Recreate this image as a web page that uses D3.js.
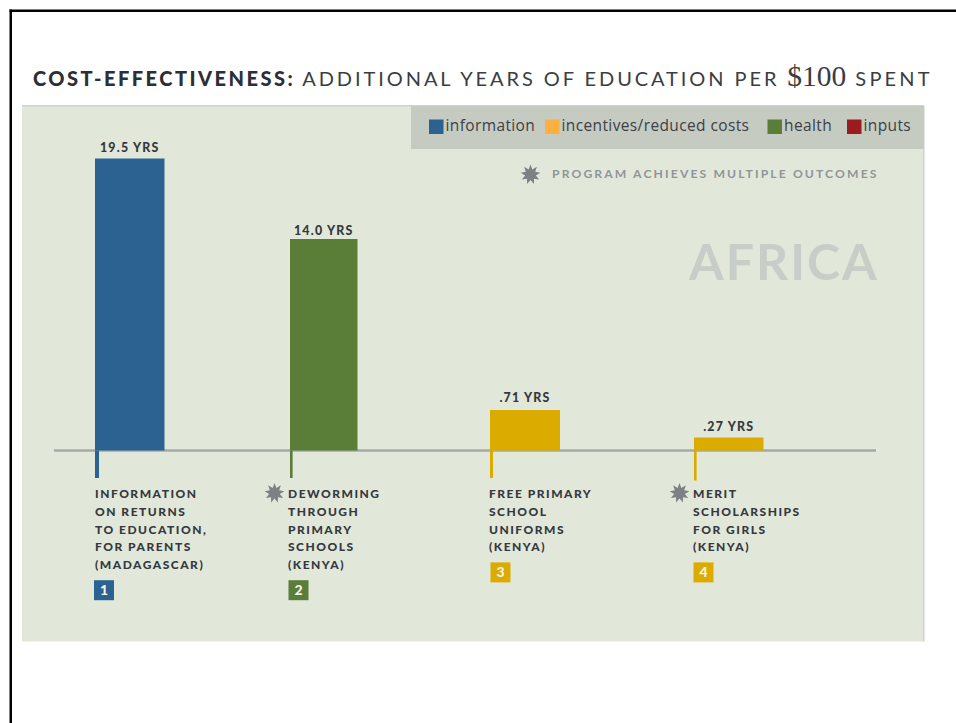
<!DOCTYPE html>
<html>
<head>
<meta charset="utf-8">
<script src="https://cdn.jsdelivr.net/npm/d3@7/dist/d3.min.js"></script>
<style>
  html, body { margin: 0; padding: 0; background: #fff; }
  svg { display: block; }
  text { font-family: Lato, sans-serif; }
</style>
</head>
<body>
<svg id="chart" width="956" height="723"></svg>
<script>
// Chart content
const categories = ["information-returns", "deworming", "uniforms", "scholarships"];
const years = [19.5, 14.0, 0.71, 0.27];
const valueLabels = ["19.5 YRS", "14.0 YRS", ".71 YRS", ".27 YRS"];
const programTypes = ["information", "health", "incentives/reduced costs", "incentives/reduced costs"];
const programLines = [
  ["INFORMATION", "ON RETURNS", "TO EDUCATION,", "FOR PARENTS", "(MADAGASCAR)"],
  ["DEWORMING", "THROUGH", "PRIMARY", "SCHOOLS", "(KENYA)"],
  ["FREE PRIMARY", "SCHOOL", "UNIFORMS", "(KENYA)"],
  ["MERIT", "SCHOLARSHIPS", "FOR GIRLS", "(KENYA)"]
];
const multipleOutcomes = [false, true, false, true];
const badgeNumbers = ["1", "2", "3", "4"];
const legendTypes = ["information", "incentives/reduced costs", "health", "inputs"];

// Layout and colour
const W = 956, H = 723;
const color = d3.scaleOrdinal()
  .domain(legendTypes)
  .range(["#2b6291", "#fcb040", "#5a7d37", "#9c1b1f"]);
const barColor = d3.scaleOrdinal()
  .domain(legendTypes)
  .range(["#2b6291", "#dcab00", "#5a7d37", "#9c1b1f"]);
const ink = "#35393f";
const baseY = 450.5;

// Bars are not to a single linear scale in this design: small values are stretched.
const y = d3.scaleLinear()
  .domain([0, 0.27, 0.71, 14, 19.5])
  .range([baseY, 437.5, 410, 239, 158.5]);
const xBar = d3.scaleOrdinal().domain(categories).range([95, 290, 490, 694]);
const barWidth = d3.scaleOrdinal().domain(categories).range([69.5, 67.5, 70, 69.5]);
const stemWidth = d3.scaleOrdinal().domain(categories).range([4, 2.6, 3, 2.6]);
const stemBottom = d3.scaleOrdinal().domain(categories).range([478, 478, 478, 480.5]);
const xLabel = d3.scaleOrdinal().domain(categories).range([95, 288, 489, 693]);
const xBadge = d3.scaleOrdinal().domain(categories).range([94, 288.5, 490.5, 693.5]);
const valueGap = d3.scaleOrdinal().domain(categories).range([6.5, 4.5, 8, 6.5]);

const svg = d3.select("#chart");

svg.append("rect").attr("width", W).attr("height", H).attr("fill", "#fff");

// Black frame along the top and left edges
svg.append("rect").attr("x", 9.5).attr("y", 9.5).attr("width", W - 9.5).attr("height", 2.5).attr("fill", "#000");
svg.append("rect").attr("x", 9.5).attr("y", 9.5).attr("width", 2.5).attr("height", H - 9.5).attr("fill", "#000");

// Title
const title = svg.append("text").attr("x", 33).attr("y", 85.5).attr("fill", "#2c2f36");
title.append("tspan").text("COST-EFFECTIVENESS:")
  .attr("font-size", 20).attr("font-weight", 900).attr("letter-spacing", 2.5);
title.append("tspan").attr("dx", 7).text("ADDITIONAL YEARS OF EDUCATION PER")
  .attr("font-size", 20).attr("font-weight", 400).attr("letter-spacing", 2.92).attr("fill", "#3a3d42");
title.append("tspan").attr("dx", 8).text("$100")
  .style("font-family", "'Liberation Serif', serif")
  .attr("font-size", 29.5).attr("fill", "#3a3d42");
title.append("tspan").attr("dx", 9).text("SPENT")
  .attr("font-size", 20).attr("letter-spacing", 3.2).attr("fill", "#3a3d42");

// Panel and legend band
svg.append("rect").attr("x", 22).attr("y", 106).attr("width", 902).attr("height", 535.5).attr("fill", "#e2e8d9");
svg.append("rect").attr("x", 923).attr("y", 106).attr("width", 1.5).attr("height", 535.5).attr("fill", "#cfd3cb");
svg.append("rect").attr("x", 22).attr("y", 105).attr("width", 902).attr("height", 1.5).attr("fill", "#cfd3cb");
svg.append("rect").attr("x", 411).attr("y", 106).attr("width", 513).attr("height", 43).attr("fill", "#c6cbc2");

// Legend
const legendSwatchX = d3.scaleOrdinal().domain(legendTypes).range([429, 545, 767.5, 847]);
const legend = svg.append("g").selectAll("g").data(legendTypes).join("g")
  .attr("transform", d => `translate(${legendSwatchX(d)},119.5)`);
legend.append("rect").attr("width", 14.5).attr("height", 14.5).attr("fill", d => color(d));
legend.append("text").attr("x", 16.5).attr("y", 11.5)
  .style("font-family", "'Open Sans', sans-serif")
  .attr("font-size", 15.5).attr("letter-spacing", 0.38).attr("fill", "#3c4047").text(d => d);

// Nine-pointed burst used for the "multiple outcomes" marker
const burstPoints = 9;
const burst = d3.lineRadial().curve(d3.curveLinearClosed)(
  d3.range(burstPoints * 2).map(i => [i * Math.PI / burstPoints, i % 2 ? 5.4 : 10])
);

// Note and region name
svg.append("path").attr("d", burst).attr("transform", "translate(530.5,174.5)").attr("fill", "#7c8186");
svg.append("text").attr("x", 552).attr("y", 178).attr("font-size", 12.2).attr("font-weight", 700)
  .attr("letter-spacing", 2.1).attr("fill", "#90959a").text("PROGRAM ACHIEVES MULTIPLE OUTCOMES");
svg.append("text").attr("x", 689).attr("y", 280).attr("font-size", 50).attr("font-weight", 700)
  .attr("letter-spacing", 2.0).attr("fill", "#c7cdc7").text("AFRICA");

// Bars with their stems
const rows = categories.map((c, i) => ({
  c, value: years[i], label: valueLabels[i], type: programTypes[i],
  lines: programLines[i], star: multipleOutcomes[i], badge: badgeNumbers[i]
}));

svg.append("rect").attr("x", 54).attr("y", baseY - 1.25).attr("width", 822).attr("height", 2.5).attr("fill", "#a5a9a5");

svg.append("g").selectAll("rect").data(rows).join("rect")
  .attr("x", d => xBar(d.c))
  .attr("y", d => y(d.value))
  .attr("width", d => barWidth(d.c))
  .attr("height", d => baseY - y(d.value))
  .attr("fill", d => barColor(d.type));

svg.append("g").selectAll("rect").data(rows).join("rect")
  .attr("x", d => xBar(d.c))
  .attr("y", baseY)
  .attr("width", d => stemWidth(d.c))
  .attr("height", d => stemBottom(d.c) - baseY)
  .attr("fill", d => barColor(d.type));

// Value labels above the bars
svg.append("g").selectAll("text").data(rows).join("text")
  .attr("x", d => xBar(d.c) + barWidth(d.c) / 2)
  .attr("y", d => y(d.value) - valueGap(d.c))
  .attr("text-anchor", "middle")
  .attr("font-size", 12.4).attr("font-weight", 900).attr("letter-spacing", 1.2)
  .attr("fill", ink)
  .text(d => d.label);

// Program descriptions
const lineStep = 17.8, firstLine = 498;
svg.append("g").selectAll("text").data(rows).join("text")
  .attr("font-size", 12).attr("font-weight", 900).attr("letter-spacing", 1.5).attr("fill", ink)
  .each(function (d) {
    d3.select(this).selectAll("tspan").data(d.lines).join("tspan")
      .attr("x", xLabel(d.c))
      .attr("y", (_, i) => firstLine + i * lineStep)
      .text(t => t);
  });

// Markers beside programs with multiple outcomes
svg.append("g").selectAll("path").data(rows.filter(d => d.star)).join("path")
  .attr("d", burst)
  .attr("transform", d => `translate(${xLabel(d.c) - 13.5},493)`)
  .attr("fill", "#7c8186");

// Numbered badges below each description
const badgeSize = 20;
const badges = svg.append("g").selectAll("g").data(rows).join("g")
  .attr("transform", d => `translate(${xBadge(d.c)},${firstLine + (d.lines.length - 1) * lineStep + 11})`);
badges.append("rect").attr("width", badgeSize).attr("height", badgeSize).attr("fill", d => barColor(d.type));
badges.append("text").attr("x", badgeSize / 2).attr("y", 15)
  .attr("text-anchor", "middle").attr("font-size", 14).attr("font-weight", 900)
  .attr("fill", "#f3f3ea").text(d => d.badge);
</script>
</body>
</html>
